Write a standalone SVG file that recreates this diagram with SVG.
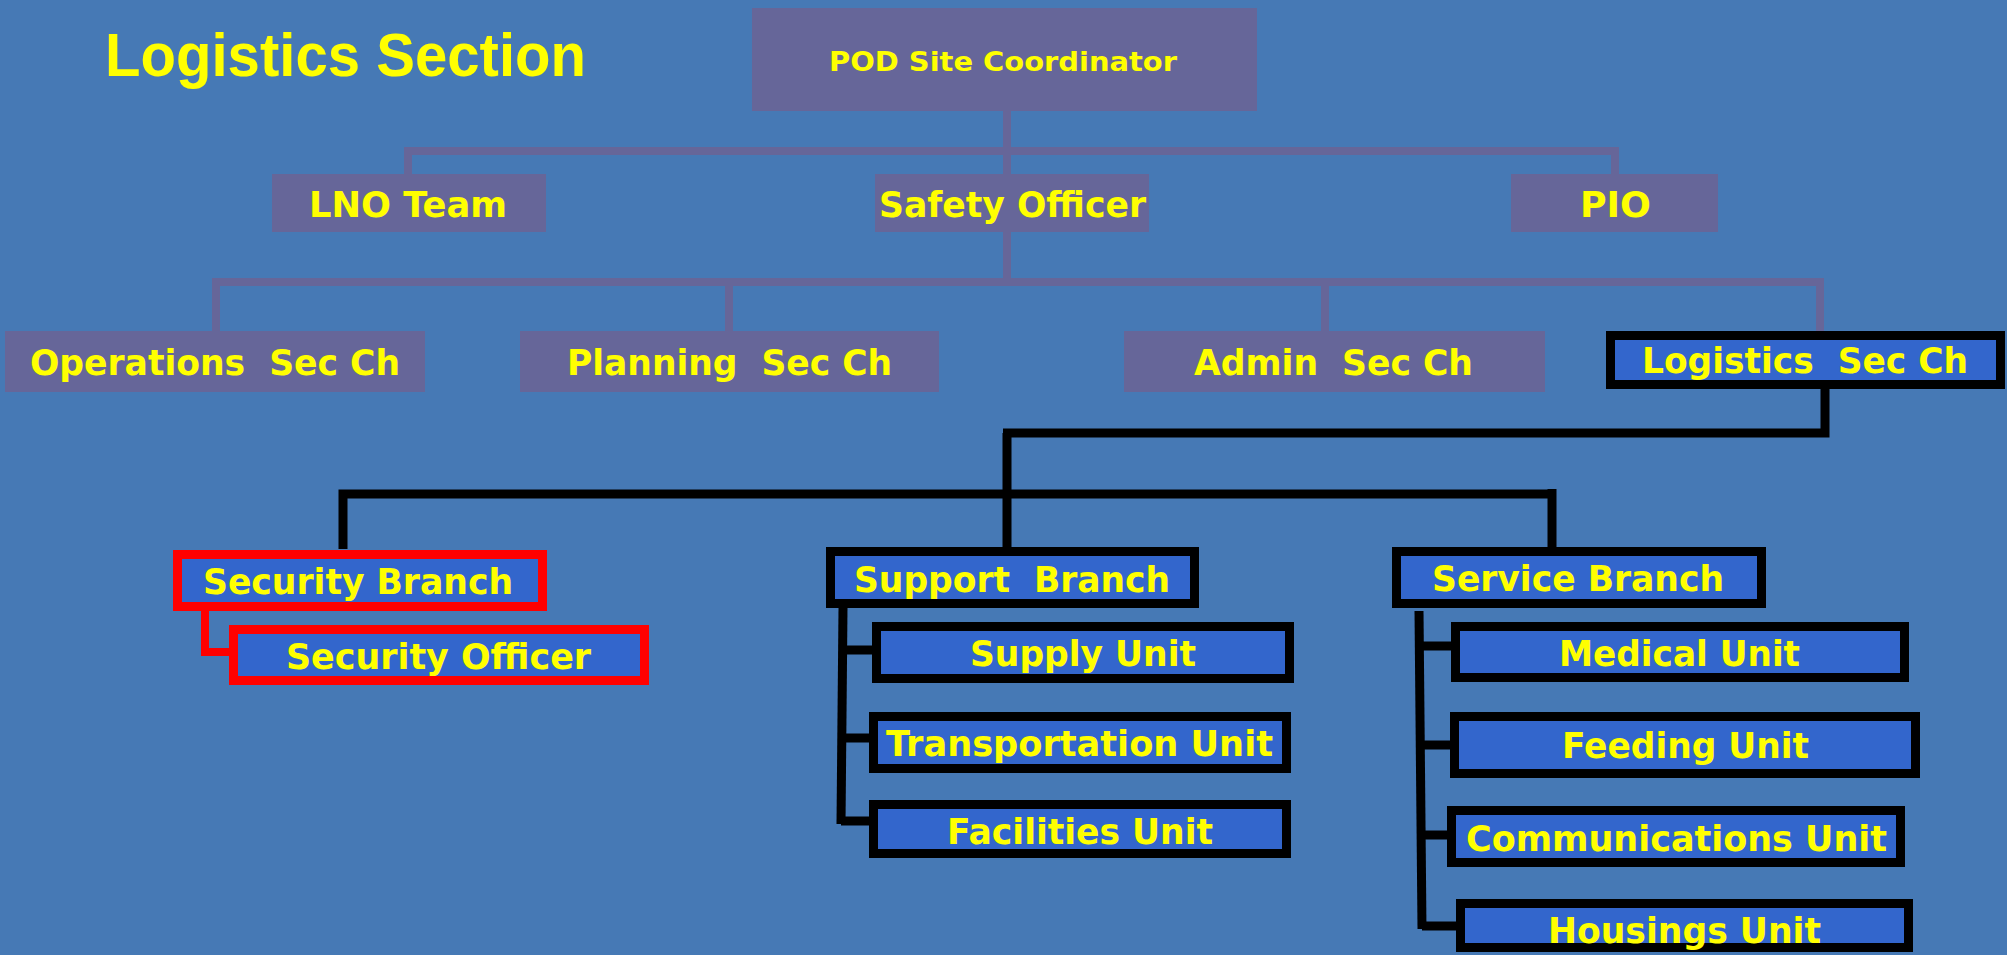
<svg xmlns="http://www.w3.org/2000/svg" width="2007" height="955" viewBox="0 0 2007 955">
<style>
.bg{fill:#4679b5}
.pbox{fill:#666699}
.bbox{fill:#3366cc;stroke:#000;stroke-width:9}
.rbox{fill:#3366cc;stroke:#ff0000;stroke-width:9}
.t{font-family:"DejaVu Sans",Verdana,sans-serif;font-weight:bold;fill:#ffff00;font-size:36px}
.title{font-family:"Liberation Sans",Arial,sans-serif;font-weight:bold;fill:#ffff00;font-size:61px}
.pl{fill:none;stroke:#666699;stroke-width:8}
.bl{fill:none;stroke:#000;stroke-width:9}
.rl{fill:none;stroke:#ff0000;stroke-width:8}
</style>
<rect class="bg" x="0" y="0" width="2007" height="955"/>
<text class="title" x="105" y="76" textLength="481" lengthAdjust="spacingAndGlyphs">Logistics Section</text>
<g id="connectors">
<path class="pl" d="M1007,111 V174"/>
<path class="pl" d="M408,174 V151 H1615 V174"/>
<path class="pl" d="M1007,232 V282"/>
<path class="pl" d="M216,331 V282 H1820 V331"/>
<path class="pl" d="M729,282 V331"/>
<path class="pl" d="M1325,282 V331"/>
<path class="bl" d="M1825,389 V433 H1003"/>
<path class="bl" d="M1007,433 V547"/>
<path class="bl" d="M343,549 V494 H1556"/>
<path class="bl" d="M1552,489 V547"/>
<path class="bl" d="M843,608 L841,824"/>
<path class="bl" d="M843,650 H872 M842,738 H869 M841,821 H869"/>
<path class="bl" d="M1419,611 L1422,929"/>
<path class="bl" d="M1420,646 H1451 M1421,745 H1450 M1421,835 H1447 M1422,926 H1456"/>
<path class="rl" d="M205,611 V652 H229"/>
</g>
<g id="pod"><rect class="pbox" x="752" y="8" width="505" height="103"/><text class="t" x="829" y="71" style="font-size:26px" textLength="348" lengthAdjust="spacingAndGlyphs">POD Site Coordinator</text></g>
<g id="lno"><rect class="pbox" x="272" y="174" width="274" height="58"/><text class="t" x="309" y="217" textLength="198" lengthAdjust="spacingAndGlyphs">LNO Team</text></g>
<g id="safety"><rect class="pbox" x="875" y="174" width="274" height="58"/><text class="t" x="879" y="217" textLength="267" lengthAdjust="spacingAndGlyphs">Safety Officer</text></g>
<g id="pio"><rect class="pbox" x="1511" y="174" width="207" height="58"/><text class="t" x="1580" y="217" textLength="71" lengthAdjust="spacingAndGlyphs">PIO</text></g>
<g id="operations"><rect class="pbox" x="5" y="331" width="420" height="61"/><text class="t" x="30" y="375" xml:space="preserve" textLength="370" lengthAdjust="spacingAndGlyphs">Operations  Sec Ch</text></g>
<g id="planning"><rect class="pbox" x="520" y="331" width="419" height="61"/><text class="t" x="567" y="375" xml:space="preserve" textLength="325" lengthAdjust="spacingAndGlyphs">Planning  Sec Ch</text></g>
<g id="admin"><rect class="pbox" x="1124" y="331" width="421" height="61"/><text class="t" x="1194" y="375" xml:space="preserve" textLength="279" lengthAdjust="spacingAndGlyphs">Admin  Sec Ch</text></g>
<g id="logistics"><rect class="bbox" x="1610.5" y="335.5" width="390" height="49"/><text class="t" x="1642" y="373" xml:space="preserve" textLength="326" lengthAdjust="spacingAndGlyphs">Logistics  Sec Ch</text></g>
<g id="security-branch"><rect class="rbox" x="177.5" y="554.5" width="365" height="52"/><text class="t" x="203" y="594" textLength="310" lengthAdjust="spacingAndGlyphs">Security Branch</text></g>
<g id="security-officer"><rect class="rbox" x="233.5" y="629.5" width="411" height="51"/><text class="t" x="286" y="669" textLength="305" lengthAdjust="spacingAndGlyphs">Security Officer</text></g>
<g id="support-branch"><rect class="bbox" x="830.5" y="551.5" width="364" height="52"/><text class="t" x="854" y="592" xml:space="preserve" textLength="316" lengthAdjust="spacingAndGlyphs">Support  Branch</text></g>
<g id="supply"><rect class="bbox" x="876.5" y="626.5" width="413" height="52"/><text class="t" x="970" y="666" textLength="226" lengthAdjust="spacingAndGlyphs">Supply Unit</text></g>
<g id="transportation"><rect class="bbox" x="873.5" y="716.5" width="413" height="52"/><text class="t" x="886" y="756" textLength="387" lengthAdjust="spacingAndGlyphs">Transportation Unit</text></g>
<g id="facilities"><rect class="bbox" x="873.5" y="804.5" width="413" height="49"/><text class="t" x="947" y="844" textLength="266" lengthAdjust="spacingAndGlyphs">Facilities Unit</text></g>
<g id="service-branch"><rect class="bbox" x="1396.5" y="551.5" width="365" height="52"/><text class="t" x="1432" y="591" textLength="292" lengthAdjust="spacingAndGlyphs">Service Branch</text></g>
<g id="medical"><rect class="bbox" x="1455.5" y="626.5" width="449" height="51"/><text class="t" x="1559" y="666" textLength="241" lengthAdjust="spacingAndGlyphs">Medical Unit</text></g>
<g id="feeding"><rect class="bbox" x="1454.5" y="716.5" width="461" height="57"/><text class="t" x="1562" y="758" textLength="247" lengthAdjust="spacingAndGlyphs">Feeding Unit</text></g>
<g id="communications"><rect class="bbox" x="1451.5" y="810.5" width="449" height="52"/><text class="t" x="1466" y="851" textLength="421" lengthAdjust="spacingAndGlyphs">Communications Unit</text></g>
<g id="housings"><rect class="bbox" x="1460.5" y="903.5" width="448" height="44"/><text class="t" x="1548" y="943" textLength="273" lengthAdjust="spacingAndGlyphs">Housings Unit</text></g>
</svg>
